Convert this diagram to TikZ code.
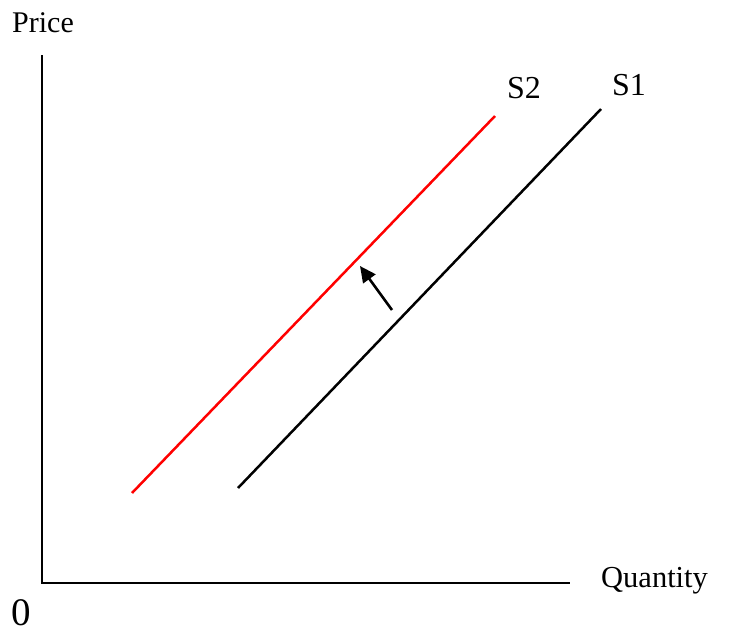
\documentclass[tikz,border=0pt]{standalone}
\usepackage{fontspec}
\setmainfont{Liberation Serif}
\usetikzlibrary{arrows.meta}
\begin{document}
\begin{tikzpicture}[x=1pt,y=-1pt,
  lbl/.style={anchor=base west,inner sep=0pt,font=\fontsize{30}{36}\selectfont},
  axis/.style={line width=2.8pt},
  curve/.style={line width=2.5pt}]
\useasboundingbox (0,0) rectangle (731,633);
\coordinate (ytop) at (42,55);
\coordinate (o) at (42,583);
\coordinate (xend) at (570,583);
\draw[axis] (ytop) -- (o) -- (xend);
\node[lbl] (price) at (12,32) {Price};
\node[lbl,font=\fontsize{30.5}{36}\selectfont] (qty) at (601,587) {Quantity};
\node[lbl,font=\fontsize{39}{46}\selectfont] (zero) at (11,625) {0};
\coordinate (s1a) at (238,488);
\coordinate (s1b) at (601,109);
\coordinate (s2a) at (132,493);
\coordinate (s2b) at (495,116);
\draw[curve] (s1a) -- (s1b);
\draw[curve,red] (s2a) -- (s2b);
\node[lbl,font=\fontsize{32}{38}\selectfont] (s2) at (507,98) {S2};
\node[lbl,font=\fontsize{32}{38}\selectfont] (s1) at (612,95) {S1};
\coordinate (arA) at (392,310);
\coordinate (arB) at (360,266);
\draw[line width=2.6pt,-{Triangle[length=16pt,width=15pt]}] (arA) -- (arB);
\end{tikzpicture}
\end{document}
